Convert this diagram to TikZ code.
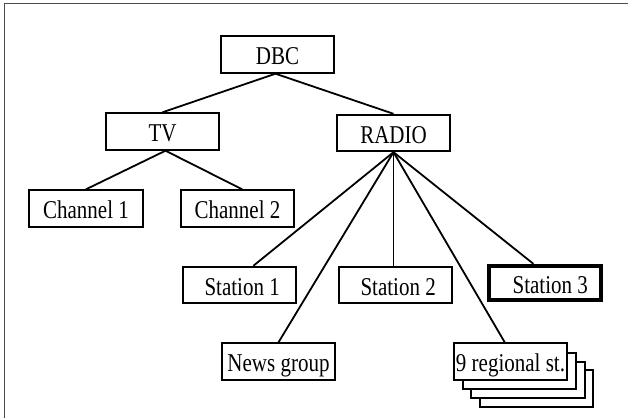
\documentclass[tikz,border=0pt]{standalone}
\usepackage{fontspec}
\setmainfont{Liberation Serif}
\usepackage{graphicx}
\usetikzlibrary{calc}
\newcommand\vtext[1]{\scalebox{1}[1.22]{#1}}
\begin{document}
\begin{tikzpicture}[x=1pt,y=-1pt,
  box/.style={draw,line width=1.9pt,rectangle,minimum width=113.5pt,minimum height=36.5pt,inner sep=0pt,fill=white,font=\fontsize{21}{23}\selectfont,text height=22pt,text depth=1.3pt},
  boldbox/.style={box,line width=3.8pt,minimum width=112pt,minimum height=34.5pt},
  conn/.style={line width=1.8pt},
  frame/.style={line width=1.4pt,black!70}]
\useasboundingbox (0,0) rectangle (628,418);
\draw[frame] (4.5,418) -- (4.5,3.5) -- (628,3.5);

\node[box] (dbc) at (277.5,54.5) {\vtext{DBC}};
\node[box] (tv) at (162.5,131.5) {\vtext{TV}};
\node[box] (radio) at (393.5,133) {\vtext{RADIO}};
\node[box] (ch1) at (86,208.5) {\vtext{Channel 1}};
\node[box] (ch2) at (237.5,208.5) {\vtext{Channel 2}};
\node[box] (s1) at (239.5,285) {\vtext{\ Station 1}};
\node[box] (s2) at (395.5,285) {\vtext{\ Station 2}};
\node[boldbox] (s3) at (545,283) {\vtext{\ \ Station 3}};
\node[box] (news) at (278.5,361.5) {\vtext{News group}};
\node[box] (reg3) at (536.5,388.5) {};
\node[box] (reg2) at (528,380) {};
\node[box] (reg1) at (519.5,371) {};
\node[box] (reg) at (510.5,361.5) {\vtext{9 regional st.}};

\draw[conn] ($(dbc.south)+(-2,0)$) -- (tv.north);
\draw[conn] ($(dbc.south)+(-2,0)$) -- (radio.north);
\draw[conn] ($(tv.south)+(3,0)$) -- (ch1.north);
\draw[conn] ($(tv.south)+(3,0)$) -- ($(ch2.north west)!0.54!(ch2.north east)$);
\draw[conn] (radio.south) -- ($(s1.north west)!0.62!(s1.north east)$);
\draw[conn] (radio.south) -- (radio.south |- s2.north);
\draw[conn] (radio.south) -- ($(s3.north west)!0.40!(s3.north east)$);
\draw[conn] (radio.south) -- (news.north);
\draw[conn] (radio.south) -- ($(reg.north west)!0.45!(reg.north east)$);
\end{tikzpicture}
\end{document}
